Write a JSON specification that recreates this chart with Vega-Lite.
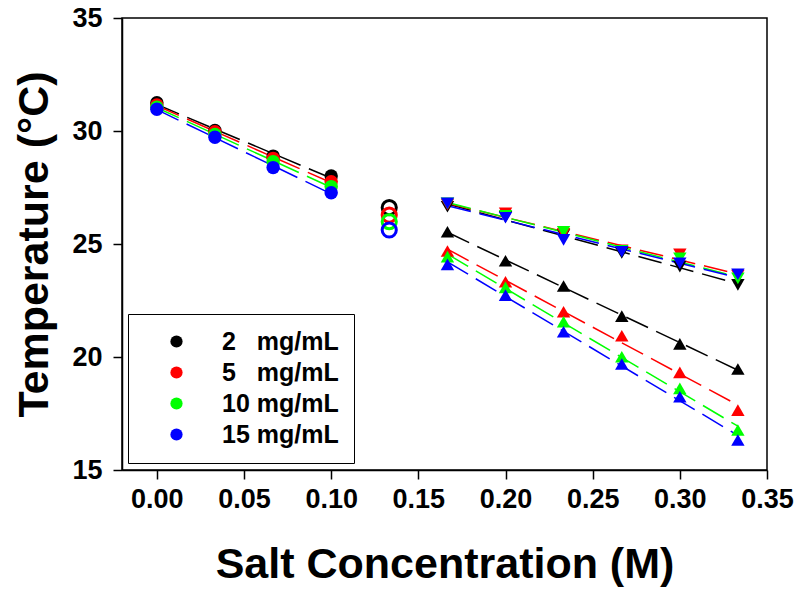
{
  "$schema": "https://vega.github.io/schema/vega-lite/v6.json",
  "width": 645,
  "height": 452,
  "autosize": {"type": "none"},
  "padding": {"left": 122, "top": 18, "right": 33, "bottom": 122},
  "background": "white",
  "config": {
    "view": {"stroke": "black", "strokeWidth": 1.5},
    "axis": {
      "grid": false,
      "domainColor": "black",
      "domainWidth": 1.5,
      "tickColor": "black",
      "tickWidth": 1.5,
      "tickSize": 9,
      "labelFont": "Liberation Sans",
      "labelFontWeight": "bold",
      "labelFontSize": 27,
      "labelColor": "black",
      "labelFlush": false,
      "labelOverlap": false,
      "titleFont": "Liberation Sans",
      "titleFontWeight": "bold",
      "titleFontSize": 43,
      "titleColor": "black"
    },
    "legend": {
      "orient": "none",
      "legendX": 6,
      "legendY": 296,
      "padding": 15,
      "symbolOffset": 21,
      "labelOffset": 33,
      "rowPadding": 5,
      "strokeColor": "black",
      "fillColor": "white",
      "labelFont": "Liberation Sans",
      "labelFontSize": 25,
      "labelFontWeight": "bold",
      "labelColor": "black",
      "symbolSize": 150,
      "symbolType": "circle",
      "symbolStrokeWidth": 0
    }
  },
  "data": {
    "values": [
      {"conc": "2\u00a0\u00a0 mg/mL", "s": "fill", "x": 0, "T": 31.25},
      {"conc": "2\u00a0\u00a0 mg/mL", "s": "fill", "x": 0.0333, "T": 30.02},
      {"conc": "2\u00a0\u00a0 mg/mL", "s": "fill", "x": 0.0667, "T": 28.89},
      {"conc": "2\u00a0\u00a0 mg/mL", "s": "fill", "x": 0.1, "T": 28.01},
      {"conc": "5\u00a0\u00a0 mg/mL", "s": "fill", "x": 0, "T": 31.15},
      {"conc": "5\u00a0\u00a0 mg/mL", "s": "fill", "x": 0.0333, "T": 29.97},
      {"conc": "5\u00a0\u00a0 mg/mL", "s": "fill", "x": 0.0667, "T": 28.79},
      {"conc": "5\u00a0\u00a0 mg/mL", "s": "fill", "x": 0.1, "T": 27.76},
      {"conc": "10 mg/mL", "s": "fill", "x": 0, "T": 31.05},
      {"conc": "10 mg/mL", "s": "fill", "x": 0.0333, "T": 29.85},
      {"conc": "10 mg/mL", "s": "fill", "x": 0.0667, "T": 28.64},
      {"conc": "10 mg/mL", "s": "fill", "x": 0.1, "T": 27.54},
      {"conc": "15 mg/mL", "s": "fill", "x": 0, "T": 30.96},
      {"conc": "15 mg/mL", "s": "fill", "x": 0.0333, "T": 29.72},
      {"conc": "15 mg/mL", "s": "fill", "x": 0.0667, "T": 28.38},
      {"conc": "15 mg/mL", "s": "fill", "x": 0.1, "T": 27.27},
      {"conc": "2\u00a0\u00a0 mg/mL", "s": "open", "x": 0.1333, "T": 26.61},
      {"conc": "5\u00a0\u00a0 mg/mL", "s": "open", "x": 0.1333, "T": 26.28},
      {"conc": "10 mg/mL", "s": "open", "x": 0.1333, "T": 25.99},
      {"conc": "15 mg/mL", "s": "open", "x": 0.1333, "T": 25.62},
      {"conc": "2\u00a0\u00a0 mg/mL", "s": "up", "x": 0.1667, "T": 25.54},
      {"conc": "2\u00a0\u00a0 mg/mL", "s": "up", "x": 0.2, "T": 24.26},
      {"conc": "2\u00a0\u00a0 mg/mL", "s": "up", "x": 0.2333, "T": 23.14},
      {"conc": "2\u00a0\u00a0 mg/mL", "s": "up", "x": 0.2667, "T": 21.81},
      {"conc": "2\u00a0\u00a0 mg/mL", "s": "up", "x": 0.3, "T": 20.58},
      {"conc": "2\u00a0\u00a0 mg/mL", "s": "up", "x": 0.3333, "T": 19.47},
      {"conc": "5\u00a0\u00a0 mg/mL", "s": "up", "x": 0.1667, "T": 24.69},
      {"conc": "5\u00a0\u00a0 mg/mL", "s": "up", "x": 0.2, "T": 23.33},
      {"conc": "5\u00a0\u00a0 mg/mL", "s": "up", "x": 0.2333, "T": 22.0},
      {"conc": "5\u00a0\u00a0 mg/mL", "s": "up", "x": 0.2667, "T": 20.94},
      {"conc": "5\u00a0\u00a0 mg/mL", "s": "up", "x": 0.3, "T": 19.32},
      {"conc": "5\u00a0\u00a0 mg/mL", "s": "up", "x": 0.3333, "T": 17.65},
      {"conc": "10 mg/mL", "s": "up", "x": 0.1667, "T": 24.44},
      {"conc": "10 mg/mL", "s": "up", "x": 0.2, "T": 23.08},
      {"conc": "10 mg/mL", "s": "up", "x": 0.2333, "T": 21.56},
      {"conc": "10 mg/mL", "s": "up", "x": 0.2667, "T": 20.01},
      {"conc": "10 mg/mL", "s": "up", "x": 0.3, "T": 18.61},
      {"conc": "10 mg/mL", "s": "up", "x": 0.3333, "T": 16.77},
      {"conc": "15 mg/mL", "s": "up", "x": 0.1667, "T": 24.1},
      {"conc": "15 mg/mL", "s": "up", "x": 0.2, "T": 22.74},
      {"conc": "15 mg/mL", "s": "up", "x": 0.2333, "T": 21.12},
      {"conc": "15 mg/mL", "s": "up", "x": 0.2667, "T": 19.69},
      {"conc": "15 mg/mL", "s": "up", "x": 0.3, "T": 18.24},
      {"conc": "15 mg/mL", "s": "up", "x": 0.3333, "T": 16.33},
      {"conc": "2\u00a0\u00a0 mg/mL", "s": "down", "x": 0.1667, "T": 26.65},
      {"conc": "2\u00a0\u00a0 mg/mL", "s": "down", "x": 0.2, "T": 26.2},
      {"conc": "2\u00a0\u00a0 mg/mL", "s": "down", "x": 0.2333, "T": 25.4},
      {"conc": "2\u00a0\u00a0 mg/mL", "s": "down", "x": 0.2667, "T": 24.6},
      {"conc": "2\u00a0\u00a0 mg/mL", "s": "down", "x": 0.3, "T": 24.0},
      {"conc": "2\u00a0\u00a0 mg/mL", "s": "down", "x": 0.3333, "T": 23.19},
      {"conc": "5\u00a0\u00a0 mg/mL", "s": "down", "x": 0.1667, "T": 26.75},
      {"conc": "5\u00a0\u00a0 mg/mL", "s": "down", "x": 0.2, "T": 26.36},
      {"conc": "5\u00a0\u00a0 mg/mL", "s": "down", "x": 0.2333, "T": 25.45},
      {"conc": "5\u00a0\u00a0 mg/mL", "s": "down", "x": 0.2667, "T": 24.72},
      {"conc": "5\u00a0\u00a0 mg/mL", "s": "down", "x": 0.3, "T": 24.54},
      {"conc": "5\u00a0\u00a0 mg/mL", "s": "down", "x": 0.3333, "T": 23.6},
      {"conc": "10 mg/mL", "s": "down", "x": 0.1667, "T": 26.8},
      {"conc": "10 mg/mL", "s": "down", "x": 0.2, "T": 26.25},
      {"conc": "10 mg/mL", "s": "down", "x": 0.2333, "T": 25.54},
      {"conc": "10 mg/mL", "s": "down", "x": 0.2667, "T": 24.7},
      {"conc": "10 mg/mL", "s": "down", "x": 0.3, "T": 24.37},
      {"conc": "10 mg/mL", "s": "down", "x": 0.3333, "T": 23.48},
      {"conc": "15 mg/mL", "s": "down", "x": 0.1667, "T": 26.8},
      {"conc": "15 mg/mL", "s": "down", "x": 0.2, "T": 26.16},
      {"conc": "15 mg/mL", "s": "down", "x": 0.2333, "T": 25.18},
      {"conc": "15 mg/mL", "s": "down", "x": 0.2667, "T": 24.66},
      {"conc": "15 mg/mL", "s": "down", "x": 0.3, "T": 24.15},
      {"conc": "15 mg/mL", "s": "down", "x": 0.3333, "T": 23.66}
    ]
  },
  "encoding": {
    "x": {
      "field": "x",
      "type": "quantitative",
      "scale": {"domain": [-0.02, 0.35], "nice": false, "zero": false},
      "axis": {
        "values": [0, 0.05, 0.1, 0.15, 0.2, 0.25, 0.3, 0.35],
        "format": ".2f",
        "title": "Salt Concentration (M)",
        "labelPadding": 7,
        "titlePadding": 31
      }
    },
    "y": {
      "field": "T",
      "type": "quantitative",
      "scale": {"domain": [15, 35], "nice": false, "zero": false},
      "axis": {
        "values": [15, 20, 25, 30, 35],
        "title": "Temperature (°C)",
        "labelPadding": 11,
        "titlePadding": 15
      }
    },
    "color": {
      "field": "conc",
      "type": "nominal",
      "scale": {
        "domain": ["2\u00a0\u00a0 mg/mL", "5\u00a0\u00a0 mg/mL", "10 mg/mL", "15 mg/mL"],
        "range": ["#000000", "#ff0000", "#00ff00", "#0000ff"]
      },
      "legend": {
        "title": null,
        "symbolType": "circle",
        "encode": {
          "symbols": {
            "update": {
              "fill": {"scale": "color", "field": "value"},
              "fillOpacity": {"value": 1},
              "opacity": {"value": 1},
              "strokeWidth": {"value": 0},
              "size": {"value": 150},
              "shape": {"value": "circle"}
            }
          }
        }
      }
    }
  },
  "layer": [
    {
      "transform": [
        {"filter": "datum.s != 'open'"},
        {"regression": "T", "on": "x", "groupby": ["conc", "s"]}
      ],
      "mark": {"type": "line", "strokeDash": [24, 9], "strokeWidth": 1.5},
      "encoding": {
        "detail": {"field": "s"}
      }
    },
    {
      "transform": [{"filter": "datum.s == 'fill'"}],
      "mark": {"type": "point", "shape": "circle", "filled": true, "size": 180, "opacity": 1}
    },
    {
      "transform": [{"filter": "datum.s == 'open'"}],
      "mark": {"type": "point", "shape": "circle", "filled": false, "size": 200, "strokeWidth": 3, "opacity": 1}
    },
    {
      "transform": [{"filter": "datum.s == 'up'"}],
      "mark": {"type": "point", "shape": "triangle-up", "filled": true, "size": 180, "opacity": 1}
    },
    {
      "transform": [{"filter": "datum.s == 'down'"}],
      "mark": {"type": "point", "shape": "triangle-down", "filled": true, "size": 180, "opacity": 1}
    }
  ]
}
